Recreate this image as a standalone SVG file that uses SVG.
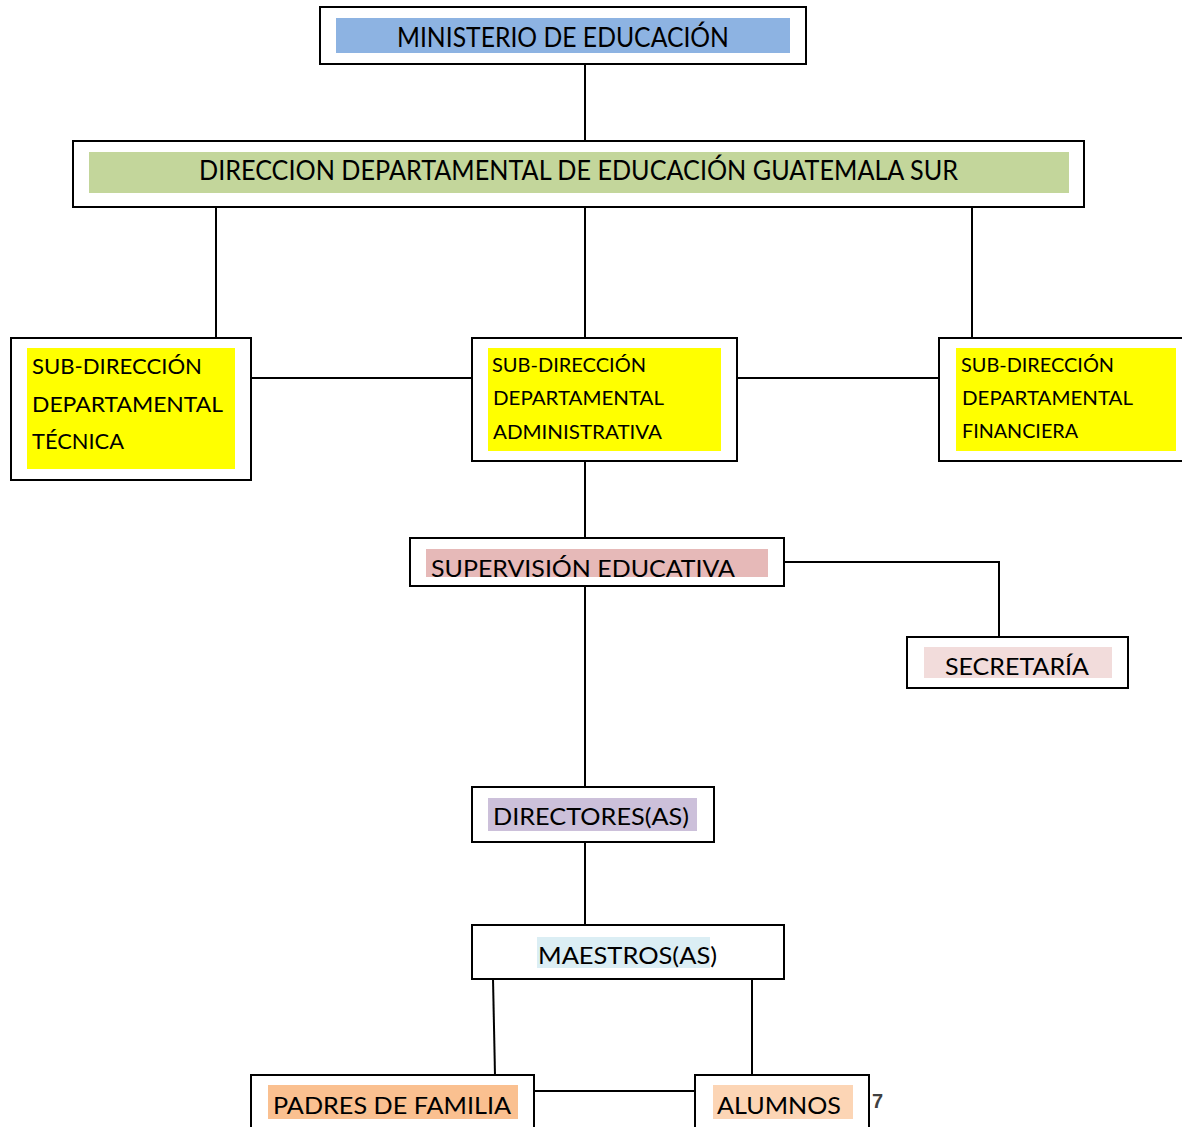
<svg xmlns="http://www.w3.org/2000/svg" width="1182" height="1127" viewBox="0 0 1182 1127">
<style>
.box{fill:#fff;stroke:#000;stroke-width:2}
.ln{stroke:#000;stroke-width:2;fill:none}
text{font-family:Lato,"Open Sans","Liberation Sans",sans-serif;fill:#000}
.big{font-size:27px}
.mid{font-size:24px}
.sub{font-size:22px}
.sm{font-size:20px}
.pg{font-family:"Liberation Sans",sans-serif;font-size:20px;font-weight:bold;fill:#404040}
</style>
<rect width="1182" height="1127" fill="#fff"/>
<g id="connectors">
<line class="ln" x1="585" y1="64" x2="585" y2="141"/>
<line class="ln" x1="216" y1="207" x2="216" y2="338"/>
<line class="ln" x1="585" y1="207" x2="585" y2="338"/>
<line class="ln" x1="972" y1="207" x2="972" y2="338"/>
<line class="ln" x1="251" y1="378" x2="472" y2="378"/>
<line class="ln" x1="737" y1="378" x2="939" y2="378"/>
<line class="ln" x1="585" y1="461" x2="585" y2="538"/>
<polyline class="ln" points="784,562 999,562 999,637"/>
<line class="ln" x1="585" y1="586" x2="585" y2="787"/>
<line class="ln" x1="585" y1="842" x2="585" y2="925"/>
<line class="ln" x1="493" y1="979" x2="495" y2="1075"/>
<line class="ln" x1="752" y1="979" x2="752" y2="1075"/>
<line class="ln" x1="534" y1="1091" x2="695" y2="1091"/>
</g>
<g id="ministerio">
<rect class="box" x="320" y="7" width="486" height="57"/>
<rect x="336" y="18" width="454" height="35" fill="#8db3e2"/>
<text class="big" x="397" y="47" textLength="332" lengthAdjust="spacingAndGlyphs">MINISTERIO DE EDUCACIÓN</text>
</g>
<g id="direccion">
<rect class="box" x="73" y="141" width="1011" height="66"/>
<rect x="89" y="152" width="980" height="41" fill="#c3d69b"/>
<text class="big" x="199" y="180" textLength="759" lengthAdjust="spacingAndGlyphs">DIRECCION DEPARTAMENTAL DE EDUCACIÓN GUATEMALA SUR</text>
</g>
<g id="sub-tecnica">
<rect class="box" x="11" y="338" width="240" height="142"/>
<rect x="27" y="348" width="208" height="121" fill="#ffff00"/>
<text class="sub" x="32" y="374" textLength="170" lengthAdjust="spacingAndGlyphs">SUB-DIRECCIÓN</text>
<text class="sub" x="32" y="412" textLength="191" lengthAdjust="spacingAndGlyphs">DEPARTAMENTAL</text>
<text class="sub" x="32" y="449" textLength="92" lengthAdjust="spacingAndGlyphs">TÉCNICA</text>
</g>
<g id="sub-administrativa">
<rect class="box" x="472" y="338" width="265" height="123"/>
<rect x="488" y="348" width="233" height="103" fill="#ffff00"/>
<text class="sm" x="492" y="372" textLength="154" lengthAdjust="spacingAndGlyphs">SUB-DIRECCIÓN</text>
<text class="sm" x="493" y="405" textLength="171" lengthAdjust="spacingAndGlyphs">DEPARTAMENTAL</text>
<text class="sm" x="493" y="439" textLength="169" lengthAdjust="spacingAndGlyphs">ADMINISTRATIVA</text>
</g>
<g id="sub-financiera">
<rect class="box" x="939" y="338" width="260" height="123"/>
<rect x="956" y="348" width="220" height="103" fill="#ffff00"/>
<text class="sm" x="961" y="372" textLength="153" lengthAdjust="spacingAndGlyphs">SUB-DIRECCIÓN</text>
<text class="sm" x="962" y="405" textLength="171" lengthAdjust="spacingAndGlyphs">DEPARTAMENTAL</text>
<text class="sm" x="962" y="438" textLength="116" lengthAdjust="spacingAndGlyphs">FINANCIERA</text>
</g>
<g id="supervision">
<rect class="box" x="410" y="538" width="374" height="48"/>
<rect x="426" y="549" width="342" height="28" fill="#e6b9b8"/>
<text class="mid" x="431" y="577" textLength="304" lengthAdjust="spacingAndGlyphs">SUPERVISIÓN EDUCATIVA</text>
</g>
<g id="secretaria">
<rect class="box" x="907" y="637" width="221" height="51"/>
<rect x="924" y="647" width="188" height="31" fill="#f2dcdb"/>
<text class="mid" x="945" y="675" textLength="144" lengthAdjust="spacingAndGlyphs">SECRETARÍA</text>
</g>
<g id="directores">
<rect class="box" x="472" y="787" width="242" height="55"/>
<rect x="488" y="798" width="209" height="33" fill="#ccc0da"/>
<text class="mid" x="493" y="825" textLength="196" lengthAdjust="spacingAndGlyphs">DIRECTORES(AS)</text>
</g>
<g id="maestros">
<rect class="box" x="472" y="925" width="312" height="54"/>
<rect x="537" y="937" width="173" height="31" fill="#dbeef4"/>
<text class="mid" x="538" y="964" textLength="179" lengthAdjust="spacingAndGlyphs">MAESTROS(AS)</text>
</g>
<g id="padres">
<rect class="box" x="251" y="1075" width="283" height="70"/>
<rect x="268" y="1085" width="250" height="34" fill="#fac090"/>
<text class="mid" x="273" y="1114" textLength="238" lengthAdjust="spacingAndGlyphs">PADRES DE FAMILIA</text>
</g>
<g id="alumnos">
<rect class="box" x="695" y="1075" width="174" height="70"/>
<rect x="713" y="1085" width="140" height="34" fill="#fcd5b5"/>
<text class="mid" x="717" y="1114" textLength="124" lengthAdjust="spacingAndGlyphs">ALUMNOS</text>
</g>
<text class="pg" x="872" y="1108">7</text>
</svg>
